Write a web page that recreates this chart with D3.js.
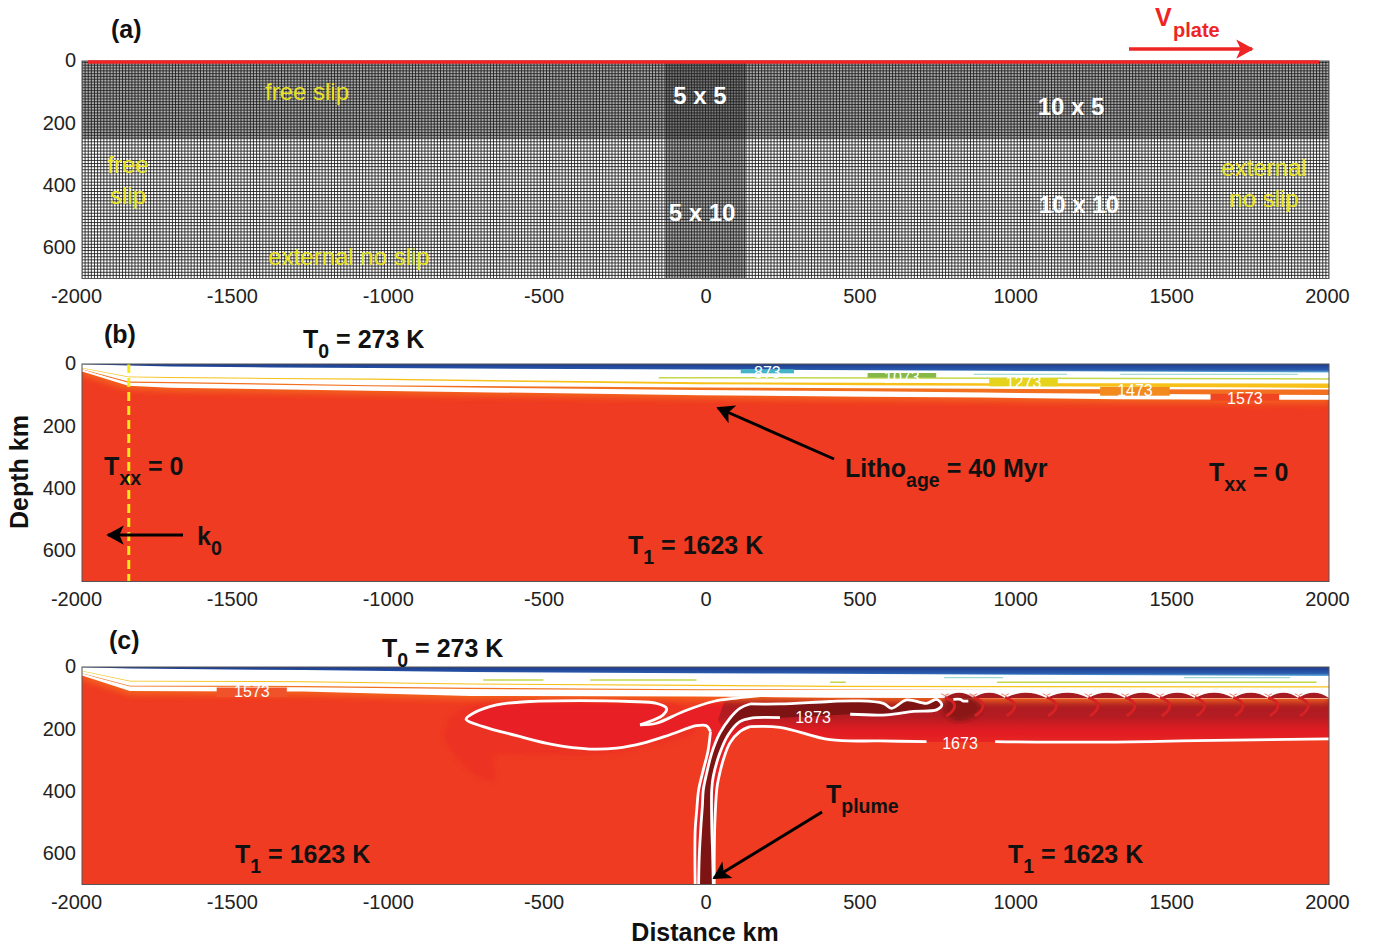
<!DOCTYPE html>
<html>
<head>
<meta charset="utf-8">
<script src="https://cdn.jsdelivr.net/npm/d3@7/dist/d3.min.js"></script>
<style>
html, body { margin: 0; background: #fff; }
text { font-family: "Liberation Sans", Arial, sans-serif; }
</style>
</head>
<body>
<script>
// Ticks
var xTicks = [-2000, -1500, -1000, -500, 0, 500, 1000, 1500, 2000]
var depthTicks = [0, 200, 400, 600]

// Mesh spacing, km
var meshCoarse = 10
var meshFine = 5
var fineDepth = 250
var fineHalfWidth = 130

// Panel b, layers read at these distances (km), values are depth (km)
var bX = [-2000, -1851, -1717, -1397, -1076, -18, 517, 891, 1319, 2000]
var bBlue = [1, 5, 8, 11, 13, 18, 20, 22, 24, 27]
var bYellowTop = [12, 40, 42, 45, 47, 59, 60, 62, 62, 63]
var bYellowBot = [14, 43, 45, 48, 51, 65, 68, 70, 73, 77]
var bOrangeTop = [17, 56, 58, 63, 68, 76, 78, 80, 81, 82]
var bOrangeBot = [19, 60, 62, 67, 72, 84, 88, 92, 96, 100]
var bWhiteBot = [21, 67, 73, 78, 83, 97, 102, 105, 110, 112]
var bGreen = [[-150, 2000], [44, 48]]
var bTeal = [[[860, 1160], [33, 33]], [[1330, 1900], [33, 33]]]

// Patches behind contour labels in b: x0, x1, d0, d1
var bPatches = [[113, 284, 17, 30], [520, 740, 29, 44], [910, 1130, 46, 72], [1266, 1489, 74, 102], [1620, 1840, 96, 118]]
var bLabels = ["873", "1073", "1273", "1473", "1573"]
var bLabelDepth = [26, 42, 59, 85, 112]

// Panel c, layers
var cX = [-2000, -1846, -1290, -755, -29, 228, 399, 1000, 2000]
var cBlue = [1, 5, 10, 16, 20, 21, 22, 25, 29]
var cYellowTop = [12, 44, 46, 53, 57, 59, 60, 61, 62]
var cYellowBot = [14, 47, 49, 56, 61, 63, 64, 65, 66]
var cOrangeTop = [20, 60, 61, 67, 72, 72, 72, 72, 72]
var cOrangeBot = [22, 63, 65, 71, 75, 74, 73, 72, 72]
var cWhiteBot = [24, 74, 76, 90, 92, 94, 96, 97, 98]
var cPatch = [-1568, -1343, 66, 97]
var cGreen = [[[-713, -520], [42, 42]], [[-370, -29], [42, 42]], [[935, 1960], [49, 49]], [[400, 450], [49, 49]]]
var cTeal = [[[765, 955], [34, 34]], [[1535, 1875], [34, 34]]]

// Plume contours [km, depth km]
var lobe = [[-210, 186], [-136, 154], [-125, 133], [-157, 117], [-243, 111], [-403, 108], [-563, 111], [-670, 122], [-745, 149], [-768, 168], [-713, 192], [-606, 221], [-488, 250], [-371, 264], [-285, 261], [-200, 245], [-114, 218], [-29, 189], [3, 189], [16, 208]]
var s1 = [[16, 208], [8, 270], [-7, 331], [-22, 395], [-28, 460], [-33, 523], [-34, 609], [-33, 700]]
var branch = [[-210, 186], [-157, 181], [-71, 143], [25, 111], [100, 100], [228, 88]]
var s2 = [[143, 119], [110, 133], [78, 165], [46, 213], [20, 277], [4, 341], [-7, 395], [-10, 448], [-14, 502], [-20, 609], [-22, 700]]
var s3 = [[239, 163], [143, 165], [110, 176], [73, 218], [46, 277], [25, 352], [20, 395], [20, 502], [23, 609], [25, 700]]
var s4 = [[143, 192], [110, 208], [78, 245], [57, 299], [41, 363], [36, 395], [30, 502], [28, 609], [28, 700]]
var right1673a = [[143, 192], [239, 194], [399, 234], [560, 238], [709, 240]]
var right1673b = [[929, 240], [1255, 242], [1575, 237], [2000, 231]]
var upper1873 = [[143, 119], [239, 119], [399, 111], [485, 109], [570, 117], [597, 133], [645, 106], [709, 117], [741, 104], [758, 122], [741, 138], [667, 143], [581, 154], [464, 152]]
var headGlow = [[-841, 224], [-809, 277], [-745, 341], [-686, 368], [-675, 352], [-681, 288], [-563, 283], [-349, 283], [-189, 256], [-29, 202], [-136, 90], [-456, 85], [-670, 90], [-820, 160]]
var darkBlob = [[770, 100], [860, 100], [885, 140], [810, 175], [760, 145]]
var whiteFleck = [[795, 104], [818, 104], [825, 109], [843, 110]]

// Small scallops under the lid
var cusps = [768, 859, 961, 1094, 1228, 1346, 1458, 1570, 1693, 1805, 1902, 2000]
var cuspDepth = 100
var scallopTop = 66

// Plot frame
var left = 82
var right = 1329
var panelH = 217.5
var panelTops = [61, 364, 667]

var svg = d3.select('body').append('svg')
	.attr('width', 1377)
	.attr('height', 950)
	.style('display', 'block')

var defs = svg.append('defs')

var xScale = d3.scaleLinear().domain([-2000, 2000]).range([left, right])

function yFor(top) {
	return d3.scaleLinear().domain([0, 700]).range([top, top + panelH])
}

// gradients
function gradient(id, attrs, stops) {
	var g = defs.append('linearGradient').attr('id', id)
	Object.keys(attrs).forEach(function (k) { g.attr(k, attrs[k]) })
	stops.forEach(function (s) {
		g.append('stop').attr('offset', s[0]).attr('stop-color', s[1])
	})
}
gradient('blueGrad', {x1: 0, x2: 0, y1: 0, y2: 1}, [[0, '#1c3a8c'], [0.7, '#2b5cae'], [1, '#62b0de']])

// hot layer below the lid in c, uses depth in px
var yC = yFor(panelTops[2])
gradient('hotGrad', {gradientUnits: 'userSpaceOnUse', x1: 0, x2: 0, y1: yC(85), y2: yC(250)},
	[[0, '#a51b20'], [0.45, '#b41c20'], [0.72, '#e01e23'], [1, '#ea2222']])

defs.append('filter').attr('id', 'soft').attr('x', '-10%').attr('y', '-10%').attr('width', '120%').attr('height', '120%')
	.append('feGaussianBlur').attr('stdDeviation', 2.5)
defs.append('filter').attr('id', 'soft1')
	.append('feGaussianBlur').attr('stdDeviation', 0.7)
defs.append('filter').attr('id', 'softLine').attr('filterUnits', 'userSpaceOnUse')
	.attr('x', 0).attr('y', 0).attr('width', 1377).attr('height', 950)
	.append('feGaussianBlur').attr('stdDeviation', 3)

panelTops.forEach(function (top, i) {
	defs.append('clipPath').attr('id', 'clip' + i).append('rect')
		.attr('x', left).attr('y', top).attr('width', right - left).attr('height', panelH)
})

function marker(id, color, w) {
	defs.append('marker').attr('id', id)
		.attr('viewBox', '-1 -6 12 12').attr('refX', 9).attr('refY', 0)
		.attr('markerWidth', w).attr('markerHeight', w)
		.attr('markerUnits', 'userSpaceOnUse').attr('orient', 'auto')
		.append('path').attr('d', 'M0,-5.5 L10,0 L0,5.5 L2.5,0 Z').attr('fill', color)
}
marker('headK', '#000', 21)
marker('headR', '#ee2524', 21)

// Shared layered lid (blue, white, yellow, orange)
function drawLid(g, y, xs, blue, yTop, yBot, oTop, oBot, wBot) {
	function band(top, bot, fill) {
		var area = d3.area()
			.x(function (d, i) { return xScale(xs[i]) })
			.y0(function (d, i) { return y(top[i]) })
			.y1(function (d, i) { return y(bot[i]) })
		g.append('path').attr('d', area(xs)).attr('fill', fill)
	}
	var edge = d3.line()
		.x(function (d, i) { return xScale(xs[i]) })
		.y(function (d, i) { return y(wBot[i]) })
	// orange tone just under the lid
	g.append('path').attr('d', edge(xs)).attr('fill', 'none')
		.attr('stroke', '#f4651f').attr('stroke-width', 9).attr('filter', 'url(#softLine)')
	var zero = xs.map(function () { return 0 })
	band(zero, wBot, '#fff')
	band(zero, blue, 'url(#blueGrad)')
	band(yTop, yBot, '#f7c11a')
	band(oTop, oBot, '#f2701f')
	g.append('path').attr('d', edge(xs)).attr('fill', 'none')
		.attr('stroke', '#fff').attr('stroke-width', 2)
}

function thinLine(g, y, seg, color, w) {
	var line = d3.line()
		.x(function (d) { return xScale(d) })
		.y(function (d, i) { return y(seg[1][i]) })
	g.append('path').attr('d', line(seg[0])).attr('fill', 'none')
		.attr('stroke', color).attr('stroke-width', w)
}

function patch(g, y, p, fill) {
	g.append('rect')
		.attr('x', xScale(p[0])).attr('y', y(p[2]))
		.attr('width', xScale(p[1]) - xScale(p[0]))
		.attr('height', y(p[3]) - y(p[2]))
		.attr('fill', fill)
}

function axes(top, y) {
	svg.append('g').attr('transform', 'translate(0,' + (top + panelH) + ')')
		.call(d3.axisBottom(xScale).tickValues(xTicks).tickFormat(String).tickSize(0).tickPadding(10))
		.call(styleAxis)
		.selectAll('text').attr('dx', function (d) { return d < 0 ? -6 : (d > 0 ? -2 : 0) })
	svg.append('g').attr('transform', 'translate(' + left + ',-0.5)')
		.call(d3.axisLeft(y).tickValues(depthTicks).tickFormat(String).tickSize(0).tickPadding(6))
		.call(styleAxis)
	svg.append('rect').attr('x', left).attr('y', top)
		.attr('width', right - left).attr('height', panelH)
		.attr('fill', 'none').attr('stroke', '#555').attr('stroke-width', 1)
}
function styleAxis(sel) {
	sel.select('.domain').remove()
	sel.selectAll('text').style('font-family', '"Liberation Sans", Arial, sans-serif')
		.style('font-size', '20px').attr('fill', '#222')
}

// text with a subscript
function subText(x, y, main, sub, rest, color) {
	var t = svg.append('text').attr('x', x).attr('y', y + 1)
		.attr('fill', color || '#111').attr('font-size', 25).attr('font-weight', 'bold')
	t.append('tspan').text(main)
	t.append('tspan').attr('dy', 10).attr('font-size', 19.5).text(sub)
	if (rest) t.append('tspan').attr('dy', -10).text(rest)
}
function label(x, y, str, size, color, weight, anchor) {
	svg.append('text').attr('x', x).attr('y', y).text(str)
		.attr('font-size', size).attr('fill', color)
		.attr('font-weight', weight || 'normal')
		.attr('text-anchor', anchor || 'middle')
}
function arrow(x1, y1, x2, y2, color, w, head) {
	svg.append('line').attr('x1', x1).attr('y1', y1).attr('x2', x2).attr('y2', y2)
		.attr('stroke', color).attr('stroke-width', w)
		.attr('marker-end', 'url(#' + head + ')')
}

// ---------- Panel a ----------
var yA = yFor(panelTops[0])
var gA = svg.append('g').attr('clip-path', 'url(#clip0)')
gA.append('rect').attr('x', left).attr('y', panelTops[0])
	.attr('width', right - left).attr('height', panelH).attr('fill', '#fff')

var hDepths = d3.range(0, fineDepth, meshFine).concat(d3.range(fineDepth, 701, meshCoarse))
var vDist = d3.range(-2000, -fineHalfWidth, meshCoarse)
	.concat(d3.range(-fineHalfWidth, fineHalfWidth, meshFine))
	.concat(d3.range(fineHalfWidth, 2001, meshCoarse))

gA.selectAll('.h').data(hDepths).enter().append('line').attr('class', 'h')
	.attr('x1', left).attr('x2', right)
	.attr('y1', function (d) { return yA(d) })
	.attr('y2', function (d) { return yA(d) })
	.attr('stroke', '#1a1a1a').attr('stroke-width', 0.85)
gA.selectAll('.v').data(vDist).enter().append('line').attr('class', 'v')
	.attr('y1', panelTops[0]).attr('y2', panelTops[0] + panelH)
	.attr('x1', function (d) { return xScale(d) })
	.attr('x2', function (d) { return xScale(d) })
	.attr('stroke', '#1a1a1a').attr('stroke-width', 0.85)

axes(panelTops[0], yA)
svg.append('line').attr('x1', 88).attr('x2', 1319)
	.attr('y1', panelTops[0] + 1).attr('y2', panelTops[0] + 1)
	.attr('stroke', '#ee2524').attr('stroke-width', 3.4)

// ---------- Panel b ----------
var yB = yFor(panelTops[1])
var gB = svg.append('g').attr('clip-path', 'url(#clip1)')
gB.append('rect').attr('x', left).attr('y', panelTops[1])
	.attr('width', right - left).attr('height', panelH).attr('fill', '#ef3b22')
drawLid(gB, yB, bX, bBlue, bYellowTop, bYellowBot, bOrangeTop, bOrangeBot, bWhiteBot)
thinLine(gB, yB, bGreen, '#c4d84a', 1.5)
bTeal.forEach(function (s) { thinLine(gB, yB, s, '#8fd0c8', 1) })
var bPatchColors = ['#45b4c8', '#86b848', '#e6d41c', '#f28a1e', '#ef4522']
bPatches.forEach(function (p, i) { patch(gB, yB, p, bPatchColors[i]) })
bLabels.forEach(function (s, i) {
	label(xScale((bPatches[i][0] + bPatches[i][1]) / 2), yB(bLabelDepth[i]) + 5.5, s, 16, '#fff')
})
svg.append('line').attr('x1', xScale(-1850)).attr('x2', xScale(-1850))
	.attr('y1', panelTops[1]).attr('y2', panelTops[1] + panelH)
	.attr('stroke', '#f7e818').attr('stroke-width', 3).attr('stroke-dasharray', '9 5')
axes(panelTops[1], yB)

// ---------- Panel c ----------
var gC = svg.append('g').attr('clip-path', 'url(#clip2)')
gC.append('rect').attr('x', left).attr('y', panelTops[2])
	.attr('width', right - left).attr('height', panelH).attr('fill', '#ef3b22')

var pLine = d3.line().x(function (d) { return xScale(d[0]) }).y(function (d) { return yC(d[1]) })
var pSmooth = d3.line().x(function (d) { return xScale(d[0]) }).y(function (d) { return yC(d[1]) }).curve(d3.curveCatmullRom.alpha(0.5))

// glow around the spreading head
gC.append('path').attr('d', pSmooth(headGlow) + 'Z').attr('fill', '#ec3022').attr('filter', 'url(#soft)')

// inside of 1673 K contour
var hotInside = s1.slice().reverse().concat(lobe.slice().reverse()).concat(branch)
	.concat([[2000, 88], [2000, 231]]).concat(right1673b.slice().reverse())
	.concat(right1673a.slice().reverse()).concat(s4)
gC.append('path').attr('d', pLine(hotInside) + 'Z').attr('fill', '#e81f24')

// darker layer under the lid, right of the conduit
var hotBand = [[60, 112], [100, 98], [228, 88], [2000, 88], [2000, 231]].concat(right1673b.slice().reverse())
	.concat(right1673a.slice().reverse()).concat([[110, 208], [78, 245], [40, 170]])
gC.append('path').attr('d', pLine(hotBand) + 'Z').attr('fill', 'url(#hotGrad)').attr('filter', 'url(#soft1)')

drawLid(gC, yC, cX, cBlue, cYellowTop, cYellowBot, cOrangeTop, cOrangeBot, cWhiteBot)
cGreen.forEach(function (s) { thinLine(gC, yC, s, '#c4d84a', 1.5) })
cTeal.forEach(function (s) { thinLine(gC, yC, s, '#9ed8d0', 1.3) })
patch(gC, yC, cPatch, '#f0532a')

// scallops pushing up into the white lid
cusps.forEach(function (c, i) {
	if (i === cusps.length - 1) return
	var next = cusps[i + 1]
	var mid = (c + next) / 2
	var p = d3.path()
	p.moveTo(xScale(c), yC(cuspDepth))
	p.quadraticCurveTo(xScale(mid), yC(scallopTop), xScale(next), yC(cuspDepth))
	p.closePath()
	gC.append('path').attr('d', p.toString()).attr('fill', '#a51b20')
})
gC.append('path').attr('d', pSmooth(darkBlob) + 'Z').attr('fill', '#8a1518').attr('filter', 'url(#soft)')
cusps.forEach(function (c, i) {
	if (i === cusps.length - 1) return
	// bright roll below each cusp
	var r = d3.path()
	r.moveTo(xScale(c), yC(cuspDepth - 2))
	r.quadraticCurveTo(xScale(c + 60), yC(cuspDepth + 20), xScale(c + 5), yC(cuspDepth + 58))
	gC.append('path').attr('d', r.toString()).attr('fill', 'none')
		.attr('stroke', '#d62024').attr('stroke-width', 3).attr('filter', 'url(#soft1)')
	// small red tick inside the white at the cusp
	var w = d3.path()
	w.moveTo(xScale(c - 12), yC(cuspDepth - 14))
	w.lineTo(xScale(c), yC(cuspDepth - 8))
	w.lineTo(xScale(c + 12), yC(cuspDepth - 14))
	gC.append('path').attr('d', w.toString()).attr('fill', 'none').attr('stroke', '#f0806a').attr('stroke-width', 1)
})

// dark conduit and 1873 K head
var dark = s2.slice().reverse().concat(upper1873.slice(1)).concat(s3)
gC.append('path').attr('d', pLine(dark) + 'Z').attr('fill', '#7d1313')

// white contours
var contours = [lobe, s1, branch, s2, s3, s4, right1673a, right1673b, upper1873, whiteFleck]
contours.forEach(function (c) {
	gC.append('path').attr('d', pSmooth(c)).attr('fill', 'none')
		.attr('stroke', '#fff').attr('stroke-width', 2.8).attr('stroke-linejoin', 'round')
})
axes(panelTops[2], yC)

label(xScale(-1455), 696.5, '1573', 16, '#fff')
label(813, 722.5, '1873', 16, '#fff')
label(960, 748.5, '1673', 16, '#fff')

// ---------- Annotations ----------
label(111, 38, '(a)', 25, '#111', 'bold', 'start')
label(104, 343, '(b)', 25, '#111', 'bold', 'start')
label(109, 649, '(c)', 25, '#111', 'bold', 'start')

var yellow = '#e9e21f'
label(307, 100, 'free slip', 24, yellow)
label(128, 173, 'free', 24, yellow)
label(128, 204, 'slip', 24, yellow)
label(349, 265, 'external no slip', 24, yellow)
label(1264, 176, 'external', 24, yellow)
label(1264, 207, 'no slip', 24, yellow)
label(700, 104, '5 x 5', 24, '#fff', 'bold')
label(702, 221, '5 x 10', 24, '#fff', 'bold')
label(1071, 115, '10 x 5', 24, '#fff', 'bold')
label(1079, 213, '10 x 10', 24, '#fff', 'bold')

label(1155, 26, 'V', 25, '#ee2524', 'bold', 'start')
label(1173, 37, 'plate', 20, '#ee2524', 'bold', 'start')
arrow(1129, 49, 1252, 49, '#ee2524', 3.4, 'headR')

subText(303, 347, 'T', '0', ' = 273 K')
subText(104, 474, 'T', 'xx', ' = 0')
subText(197, 544, 'k', '0')
subText(628, 553, 'T', '1', ' = 1623 K')
subText(845, 476, 'Litho', 'age', ' = 40 Myr')
subText(1209, 480, 'T', 'xx', ' = 0')
arrow(183, 535, 108, 535, '#000', 3, 'headK')
arrow(834, 459, 718, 408, '#000', 3, 'headK')

subText(382, 656, 'T', '0', ' = 273 K')
subText(235, 862, 'T', '1', ' = 1623 K')
subText(1008, 862, 'T', '1', ' = 1623 K')
subText(826, 802, 'T', 'plume')
arrow(822, 812, 714, 878, '#000', 3, 'headK')

label(705, 941, 'Distance km', 25, '#111', 'bold')
svg.append('text').attr('transform', 'translate(28,472) rotate(-90)')
	.attr('text-anchor', 'middle').attr('font-size', 25).attr('font-weight', 'bold')
	.attr('fill', '#111').text('Depth km')
</script>
</body>
</html>
